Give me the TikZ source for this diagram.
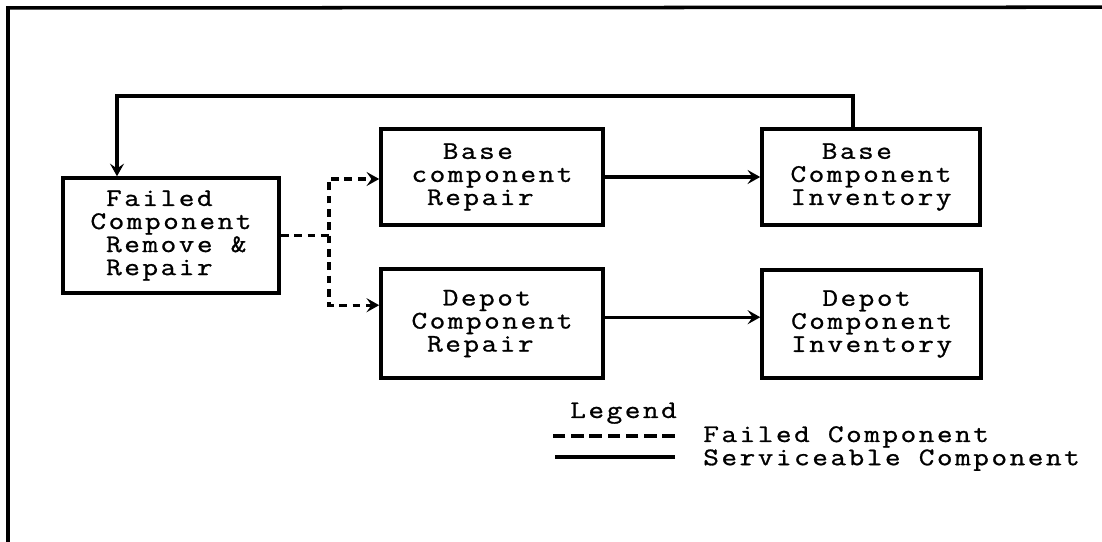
\documentclass[tikz,border=0pt]{standalone}
\usepackage{fontspec}
\setmonofont[FakeStretch=1.2, LetterSpace=10, FakeBold=1]{Latin Modern Mono}
\usepackage{tikz}
\usetikzlibrary{positioning,arrows.meta}
\newcommand{\indt}{\hphantom{x}}

\begin{document}
\begin{tikzpicture}[
    every node/.style={font=\ttfamily\fontsize{18}{16.4}\selectfont, inner sep=0pt},
    block/.style={
        draw,
        line width=2.6pt,
        minimum width=5.55cm,
        minimum height=2.4cm,
        align=left
    },
    servflow/.style={line width=2.4pt, -{Stealth[length=9pt,width=10pt,inset=3.5pt]}},
    failflow/.style={servflow, dash pattern=on 5.5pt off 4pt}
]
\useasboundingbox (0,0) rectangle (27.55,13.55);

% page frame
\draw[line width=2.5pt] (27.55,13.37) -- (0.2,13.35) -- (0.2,0);

\node[block, minimum width=5.4cm, minimum height=2.875cm] (fail) at (4.275,7.66) {\indt Failed\\Component\\\indt Remove \&\\\indt Repair};
\node[block] (brep) at (12.3,9.125) {\indt\indt Base\\component\\\indt Repair};
\node[block, minimum height=2.725cm] (drep) at (12.3,5.46) {\indt\indt Depot\\Component\\\indt Repair};
\node[block, minimum width=5.45cm] (binv) at (21.775,9.125) {\indt\indt Base\\Component\\Inventory};
\node[block, minimum width=5.475cm, minimum height=2.7cm] (dinv) at (21.79,5.45) {\indt\indt Depot\\Component\\Inventory};

% failed components go out to repair
\coordinate (split) at ([xshift=1.2cm]fail.east);
\draw[failflow] (fail.east) -- (split) |- ([yshift=-0.5mm]brep.west);
\draw[failflow] (split) |- ([yshift=4.6mm]drep.west);

% serviceable components
\coordinate (dtap) at ([yshift=1.6mm]drep.east);
\draw[servflow] (brep.east) -- (binv.west);
\draw[servflow] (dtap) -- (dtap -| dinv.west);
\draw[servflow] ([xshift=-4.5mm]binv.north) -- ++(0,0.775) -| ([xshift=-13.5mm]fail.north);

% legend
\node[anchor=base west] (legend) at (14.25,3.1) {Legend};
\node[anchor=base west] (lfail) at (17.575,2.5) {Failed Component};
\node[anchor=base west] (lserv) at (17.575,1.92) {Serviceable Component};
\draw[line width=2.3pt, dash pattern=on 9pt off 4pt] ([xshift=-0.7cm,yshift=0.15cm]lfail.base west) -- ++(-3.075,0);
\draw[line width=2.6pt] ([xshift=-0.7cm,yshift=0.2cm]lserv.base west) -- ++(-3.0,0);

\end{tikzpicture}
\end{document}
